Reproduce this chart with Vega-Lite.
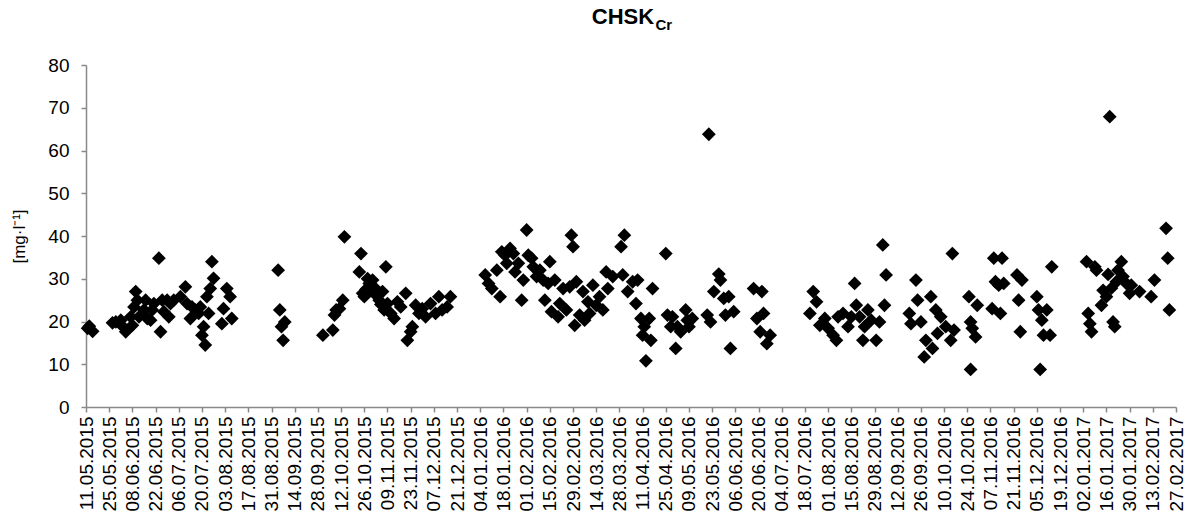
{
"$schema":"https://vega.github.io/schema/vega-lite/v6.json",
"width":1090,"height":342,
"autosize":"none",
"padding":{"left":86,"top":65,"right":10,"bottom":114},
"background":"white",
"title":{"text":"CHSK","font":"Liberation Sans","fontSize":22,"fontWeight":"bold","color":"black","anchor":"middle","dx":-8,"offset":-29,"baseline":"alphabetic"},
"data":{"values":[
{"date":"2015/05/12","value":18.4},{"date":"2015/05/13","value":18.9},{"date":"2015/05/15","value":17.7},{"date":"2015/05/27","value":19.7},{"date":"2015/05/29","value":19.9},
{"date":"2015/06/01","value":20.3},{"date":"2015/06/02","value":18.9},{"date":"2015/06/04","value":17.6},{"date":"2015/06/07","value":21.1},{"date":"2015/06/08","value":19.1},
{"date":"2015/06/09","value":23.4},{"date":"2015/06/10","value":27.0},{"date":"2015/06/11","value":25.0},{"date":"2015/06/12","value":21.1},{"date":"2015/06/15","value":22.7},
{"date":"2015/06/16","value":25.0},{"date":"2015/06/17","value":20.7},{"date":"2015/06/19","value":20.3},{"date":"2015/06/20","value":22.7},{"date":"2015/06/21","value":24.2},
{"date":"2015/06/24","value":34.8},{"date":"2015/06/25","value":17.6},{"date":"2015/06/26","value":25.0},{"date":"2015/06/27","value":22.3},{"date":"2015/06/29","value":25.0},
{"date":"2015/06/30","value":21.1},{"date":"2015/07/01","value":24.2},{"date":"2015/07/03","value":25.0},{"date":"2015/07/07","value":25.8},{"date":"2015/07/10","value":28.1},
{"date":"2015/07/11","value":24.2},{"date":"2015/07/13","value":20.7},{"date":"2015/07/14","value":23.4},{"date":"2015/07/16","value":22.7},{"date":"2015/07/18","value":21.9},
{"date":"2015/07/19","value":23.4},{"date":"2015/07/20","value":16.8},{"date":"2015/07/21","value":18.8},{"date":"2015/07/22","value":14.5},{"date":"2015/07/23","value":25.8},
{"date":"2015/07/24","value":21.9},{"date":"2015/07/25","value":27.7},{"date":"2015/07/26","value":34.0},{"date":"2015/07/27","value":30.1},{"date":"2015/08/01","value":19.5},
{"date":"2015/08/02","value":23.0},{"date":"2015/08/04","value":27.7},{"date":"2015/08/06","value":25.8},{"date":"2015/08/07","value":20.7},
{"date":"2015/09/04","value":32.0},{"date":"2015/09/05","value":22.7},{"date":"2015/09/06","value":18.8},{"date":"2015/09/07","value":15.6},{"date":"2015/09/08","value":19.9},
{"date":"2015/10/01","value":16.8},{"date":"2015/10/07","value":18.0},{"date":"2015/10/08","value":21.5},{"date":"2015/10/09","value":22.7},{"date":"2015/10/11","value":23.0},
{"date":"2015/10/13","value":25.0},{"date":"2015/10/14","value":39.8},{"date":"2015/10/23","value":31.6},{"date":"2015/10/24","value":35.9},{"date":"2015/10/25","value":26.6},
{"date":"2015/10/26","value":25.8},{"date":"2015/10/27","value":27.5},{"date":"2015/10/28","value":30.0},{"date":"2015/10/29","value":28.9},{"date":"2015/10/30","value":27.3},
{"date":"2015/10/31","value":29.7},{"date":"2015/11/01","value":28.0},{"date":"2015/11/02","value":26.2},{"date":"2015/11/03","value":26.5},{"date":"2015/11/04","value":25.0},
{"date":"2015/11/05","value":24.0},{"date":"2015/11/06","value":27.0},{"date":"2015/11/07","value":22.7},{"date":"2015/11/08","value":32.8},{"date":"2015/11/09","value":24.2},
{"date":"2015/11/11","value":21.9},{"date":"2015/11/13","value":20.7},{"date":"2015/11/15","value":24.6},{"date":"2015/11/17","value":23.4},{"date":"2015/11/20","value":26.6},
{"date":"2015/11/21","value":15.6},{"date":"2015/11/23","value":17.6},{"date":"2015/11/24","value":18.8},{"date":"2015/11/26","value":23.8},{"date":"2015/11/28","value":21.9},
{"date":"2015/11/30","value":23.0},{"date":"2015/12/02","value":21.1},{"date":"2015/12/05","value":24.2},{"date":"2015/12/08","value":21.9},{"date":"2015/12/10","value":25.8},
{"date":"2015/12/12","value":22.7},{"date":"2015/12/15","value":23.4},{"date":"2015/12/17","value":25.8},
{"date":"2016/01/07","value":30.9},{"date":"2016/01/09","value":28.9},{"date":"2016/01/11","value":27.7},{"date":"2016/01/14","value":32.0},{"date":"2016/01/16","value":25.8},
{"date":"2016/01/17","value":36.3},{"date":"2016/01/19","value":35.5},{"date":"2016/01/20","value":33.6},{"date":"2016/01/22","value":37.1},{"date":"2016/01/24","value":35.9},
{"date":"2016/01/25","value":31.6},{"date":"2016/01/27","value":33.6},{"date":"2016/01/29","value":25.0},{"date":"2016/01/30","value":29.7},{"date":"2016/02/01","value":41.4},
{"date":"2016/02/02","value":35.5},{"date":"2016/02/04","value":34.8},{"date":"2016/02/05","value":32.8},{"date":"2016/02/07","value":30.5},{"date":"2016/02/09","value":32.0},
{"date":"2016/02/11","value":29.7},{"date":"2016/02/12","value":25.0},{"date":"2016/02/14","value":28.9},{"date":"2016/02/15","value":34.0},{"date":"2016/02/16","value":22.3},
{"date":"2016/02/18","value":29.7},{"date":"2016/02/20","value":21.1},{"date":"2016/02/21","value":24.2},{"date":"2016/02/23","value":27.7},{"date":"2016/02/25","value":22.7},
{"date":"2016/02/27","value":28.1},{"date":"2016/02/28","value":40.2},{"date":"2016/02/29","value":37.5},{"date":"2016/03/01","value":19.1},{"date":"2016/03/02","value":29.3},
{"date":"2016/03/04","value":21.5},{"date":"2016/03/06","value":27.0},{"date":"2016/03/07","value":20.3},{"date":"2016/03/09","value":24.6},{"date":"2016/03/10","value":21.9},
{"date":"2016/03/12","value":28.5},{"date":"2016/03/14","value":23.8},{"date":"2016/03/16","value":25.8},{"date":"2016/03/18","value":22.7},{"date":"2016/03/20","value":31.6},
{"date":"2016/03/21","value":27.7},{"date":"2016/03/24","value":30.5},{"date":"2016/03/29","value":37.5},{"date":"2016/03/30","value":30.9},{"date":"2016/03/31","value":40.2},
{"date":"2016/04/02","value":27.0},{"date":"2016/04/05","value":29.3},{"date":"2016/04/07","value":24.2},{"date":"2016/04/08","value":29.7},{"date":"2016/04/10","value":20.7},
{"date":"2016/04/11","value":16.8},{"date":"2016/04/12","value":18.8},{"date":"2016/04/13","value":10.8},{"date":"2016/04/15","value":20.7},{"date":"2016/04/16","value":15.6},
{"date":"2016/04/17","value":27.7},{"date":"2016/04/25","value":35.9},{"date":"2016/04/26","value":21.5},{"date":"2016/04/28","value":18.8},{"date":"2016/04/29","value":21.1},
{"date":"2016/05/01","value":13.7},{"date":"2016/05/02","value":18.8},{"date":"2016/05/04","value":17.6},{"date":"2016/05/07","value":22.7},{"date":"2016/05/08","value":20.3},
{"date":"2016/05/09","value":18.8},{"date":"2016/05/11","value":20.7},{"date":"2016/05/20","value":21.5},{"date":"2016/05/21","value":63.8},{"date":"2016/05/22","value":19.9},
{"date":"2016/05/24","value":27.0},{"date":"2016/05/27","value":31.1},{"date":"2016/05/28","value":29.7},{"date":"2016/05/30","value":25.4},{"date":"2016/05/31","value":21.5},
{"date":"2016/06/02","value":25.8},{"date":"2016/06/03","value":13.7},{"date":"2016/06/05","value":22.3},{"date":"2016/06/17","value":27.7},{"date":"2016/06/19","value":20.7},
{"date":"2016/06/21","value":17.6},{"date":"2016/06/22","value":27.0},{"date":"2016/06/23","value":21.9},{"date":"2016/06/25","value":14.8},{"date":"2016/06/27","value":16.8},
{"date":"2016/07/21","value":21.9},{"date":"2016/07/23","value":27.0},{"date":"2016/07/25","value":24.6},{"date":"2016/07/27","value":19.1},{"date":"2016/07/30","value":20.7},
{"date":"2016/08/01","value":18.4},{"date":"2016/08/04","value":16.8},{"date":"2016/08/06","value":15.6},{"date":"2016/08/07","value":21.1},{"date":"2016/08/10","value":21.9},
{"date":"2016/08/13","value":18.8},{"date":"2016/08/15","value":21.1},{"date":"2016/08/17","value":28.9},{"date":"2016/08/18","value":23.8},{"date":"2016/08/20","value":21.1},
{"date":"2016/08/22","value":15.6},{"date":"2016/08/23","value":18.8},{"date":"2016/08/25","value":22.7},{"date":"2016/08/27","value":20.3},{"date":"2016/08/30","value":15.6},
{"date":"2016/09/01","value":19.9},{"date":"2016/09/03","value":37.9},{"date":"2016/09/04","value":23.8},{"date":"2016/09/05","value":30.9},{"date":"2016/09/19","value":21.9},
{"date":"2016/09/20","value":19.5},{"date":"2016/09/23","value":29.7},{"date":"2016/09/24","value":25.0},{"date":"2016/09/26","value":19.9},{"date":"2016/09/28","value":11.7},
{"date":"2016/09/29","value":15.6},{"date":"2016/10/02","value":25.8},{"date":"2016/10/03","value":13.7},{"date":"2016/10/05","value":22.7},{"date":"2016/10/06","value":17.2},
{"date":"2016/10/08","value":21.1},{"date":"2016/10/11","value":18.8},{"date":"2016/10/14","value":15.6},{"date":"2016/10/15","value":35.9},{"date":"2016/10/16","value":18.0},
{"date":"2016/10/25","value":25.8},{"date":"2016/10/26","value":19.9},{"date":"2016/10/26","value":8.8},{"date":"2016/10/27","value":18.4},{"date":"2016/10/29","value":16.4},
{"date":"2016/10/30","value":23.8},{"date":"2016/11/08","value":23.0},{"date":"2016/11/09","value":34.8},{"date":"2016/11/10","value":29.3},{"date":"2016/11/12","value":28.5},
{"date":"2016/11/13","value":21.9},{"date":"2016/11/14","value":34.8},{"date":"2016/11/15","value":28.9},{"date":"2016/11/23","value":30.9},{"date":"2016/11/24","value":25.0},
{"date":"2016/11/25","value":17.6},{"date":"2016/11/26","value":29.7},{"date":"2016/12/05","value":25.8},{"date":"2016/12/06","value":22.7},{"date":"2016/12/07","value":8.8},
{"date":"2016/12/08","value":20.3},{"date":"2016/12/09","value":16.8},{"date":"2016/12/11","value":22.7},{"date":"2016/12/13","value":16.8},{"date":"2016/12/14","value":32.8},
{"date":"2017/01/04","value":34.0},{"date":"2017/01/05","value":21.9},{"date":"2017/01/06","value":19.5},{"date":"2017/01/07","value":17.6},{"date":"2017/01/09","value":32.8},
{"date":"2017/01/10","value":32.0},{"date":"2017/01/13","value":23.8},{"date":"2017/01/14","value":27.3},{"date":"2017/01/16","value":25.8},{"date":"2017/01/17","value":31.0},
{"date":"2017/01/18","value":67.9},{"date":"2017/01/19","value":27.8},{"date":"2017/01/20","value":19.9},{"date":"2017/01/21","value":18.8},{"date":"2017/01/22","value":29.3},
{"date":"2017/01/23","value":32.0},{"date":"2017/01/25","value":34.0},{"date":"2017/01/26","value":30.5},{"date":"2017/01/28","value":28.9},{"date":"2017/01/30","value":26.6},
{"date":"2017/01/31","value":28.5},{"date":"2017/02/05","value":27.0},{"date":"2017/02/12","value":25.8},{"date":"2017/02/14","value":29.7},{"date":"2017/02/21","value":41.8},
{"date":"2017/02/22","value":34.8},{"date":"2017/02/23","value":22.7}
]},
"mark":{"type":"point","shape":"diamond","filled":true,"color":"black","opacity":1,"size":190},
"encoding":{
"x":{"field":"date","type":"temporal",
"scale":{"domain":[{"year":2015,"month":5,"date":11},{"year":2017,"month":2,"date":27}],"nice":false},
"axis":{"values":[
{"year":2015,"month":5,"date":11},{"year":2015,"month":5,"date":25},{"year":2015,"month":6,"date":8},{"year":2015,"month":6,"date":22},
{"year":2015,"month":7,"date":6},{"year":2015,"month":7,"date":20},{"year":2015,"month":8,"date":3},{"year":2015,"month":8,"date":17},
{"year":2015,"month":8,"date":31},{"year":2015,"month":9,"date":14},{"year":2015,"month":9,"date":28},{"year":2015,"month":10,"date":12},
{"year":2015,"month":10,"date":26},{"year":2015,"month":11,"date":9},{"year":2015,"month":11,"date":23},{"year":2015,"month":12,"date":7},
{"year":2015,"month":12,"date":21},{"year":2016,"month":1,"date":4},{"year":2016,"month":1,"date":18},{"year":2016,"month":2,"date":1},
{"year":2016,"month":2,"date":15},{"year":2016,"month":2,"date":29},{"year":2016,"month":3,"date":14},{"year":2016,"month":3,"date":28},
{"year":2016,"month":4,"date":11},{"year":2016,"month":4,"date":25},{"year":2016,"month":5,"date":9},{"year":2016,"month":5,"date":23},
{"year":2016,"month":6,"date":6},{"year":2016,"month":6,"date":20},{"year":2016,"month":7,"date":4},{"year":2016,"month":7,"date":18},
{"year":2016,"month":8,"date":1},{"year":2016,"month":8,"date":15},{"year":2016,"month":8,"date":29},{"year":2016,"month":9,"date":12},
{"year":2016,"month":9,"date":26},{"year":2016,"month":10,"date":10},{"year":2016,"month":10,"date":24},{"year":2016,"month":11,"date":7},
{"year":2016,"month":11,"date":21},{"year":2016,"month":12,"date":5},{"year":2016,"month":12,"date":19},{"year":2017,"month":1,"date":2},
{"year":2017,"month":1,"date":16},{"year":2017,"month":1,"date":30},{"year":2017,"month":2,"date":13},{"year":2017,"month":2,"date":27}],
"format":"%d.%m.%Y","labelAngle":-90,"labelFontSize":19,"labelPadding":4,"labelOverlap":false,"labelFlush":false,"labelBound":false,
"title":"Cr","titleX":569,"titleY":-378,"titleAlign":"left","titleBaseline":"alphabetic","titleAngle":0,"titleFontSize":15,"titleFontWeight":"bold","titleFont":"Liberation Sans","titleColor":"black"}},
"y":{"field":"value","type":"quantitative","scale":{"domain":[0,80],"nice":false,"zero":true},
"axis":{"values":[0,10,20,30,40,50,60,70,80],"labelFontSize":19,"labelPadding":12,
"title":"[mg·l⁻¹]","titleX":-62,"titleY":171,"titleAngle":-90,"titleAlign":"center","titleBaseline":"alphabetic","titleFontSize":17,"titleFontWeight":"normal","titleFont":"Liberation Sans","titleColor":"black"}}
},
"config":{
"view":{"stroke":null},
"axis":{"grid":false,"domainColor":"#898989","domainWidth":1.5,"tickColor":"#898989","tickWidth":1.5,"tickSize":5,"labelFont":"Liberation Sans","labelColor":"black"}
}
}
